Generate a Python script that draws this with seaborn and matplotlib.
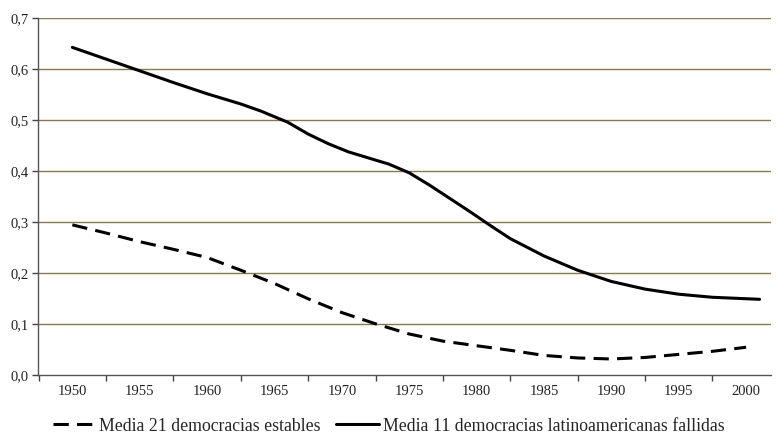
import matplotlib
matplotlib.use("Agg")
import matplotlib.pyplot as plt
import matplotlib.ticker as mticker
import seaborn as sns
import pandas as pd

# values
years_estables = [1950, 1952.5, 1955, 1957.5, 1960, 1962.5, 1965, 1967.5, 1970, 1972.5,
                  1975, 1977.5, 1980, 1982.5, 1985, 1987.5, 1990, 1992.5, 1995, 1997.5, 2000]
media_estables = [0.295, 0.279, 0.262, 0.247, 0.231, 0.206, 0.180, 0.150, 0.123, 0.101,
                  0.081, 0.067, 0.058, 0.049, 0.039, 0.034, 0.032, 0.035, 0.041, 0.047, 0.055]

years_fallidas = [1950, 1952.5, 1955, 1957.5, 1960, 1962.5, 1964, 1966, 1967.5, 1969,
                  1970.5, 1972, 1973.5, 1975, 1976.5, 1978, 1979.5, 1981, 1982.5, 1985,
                  1987.5, 1990, 1992.5, 1995, 1997.5, 2001]
media_fallidas = [0.643, 0.620, 0.597, 0.574, 0.552, 0.532, 0.518, 0.496, 0.473, 0.454,
                  0.438, 0.426, 0.414, 0.397, 0.373, 0.347, 0.321, 0.294, 0.268, 0.234,
                  0.206, 0.184, 0.169, 0.159, 0.153, 0.149]

label_estables = "Media 21 democracias estables"
label_fallidas = "Media 11 democracias latinoamericanas fallidas"
year_labels = list(range(1950, 2001, 5))
y_ticks = [0.0, 0.1, 0.2, 0.3, 0.4, 0.5, 0.6, 0.7]

df = pd.concat([
    pd.DataFrame({"year": years_estables, "valor": media_estables, "serie": label_estables}),
    pd.DataFrame({"year": years_fallidas, "valor": media_fallidas, "serie": label_fallidas}),
])

sns.set_style("white")
plt.rcParams["font.family"] = ["Liberation Serif", "DejaVu Serif"]

fig = plt.figure(figsize=(7.77, 4.42), dpi=100)
ax = fig.add_axes([0.0489, 0.1509, 0.9434, 0.8077])

sns.lineplot(data=df, x="year", y="valor", style="serie",
             hue="serie", palette=["black", "black"],
             dashes={label_estables: (5, 2.7), label_fallidas: ""},
             linewidth=2.2, ax=ax, legend=True)
for line in ax.lines:
    line.set_solid_joinstyle("round")
    line.set_dash_joinstyle("round")

ax.set_xlim(1947.45, 2001.85)
ax.set_ylim(0, 0.7)
ax.set_xticks(year_labels)
ax.set_xticks([1947.5 + 5 * i for i in range(11)], minor=True)
ax.tick_params(axis="x", which="major", length=0, labelsize=10.5, pad=7, colors="#222222")
ax.tick_params(axis="x", which="minor", length=4, width=1, color="#444444", direction="out", bottom=True)
ax.set_yticks(y_ticks)
ax.yaxis.set_major_formatter(mticker.FuncFormatter(lambda v, p: f"{v:.1f}".replace(".", ",")))
ax.tick_params(axis="y", length=4, width=1, color="#444444", direction="out", left=True,
               labelsize=10.5, pad=3)
for lab in ax.get_yticklabels():
    lab.set_color("#222222")

for v in y_ticks[1:]:
    ax.axhline(v, color="#857a55", linewidth=1, zorder=0)

for side in ["top", "right"]:
    ax.spines[side].set_visible(False)
for side in ["left", "bottom"]:
    ax.spines[side].set_color("#555555")
    ax.spines[side].set_linewidth(1)

ax.set_xlabel("")
ax.set_ylabel("")

handles, labels = ax.get_legend_handles_labels()
ax.legend(handles, labels, loc="center", bbox_to_anchor=(0.5, 0.036),
          bbox_transform=fig.transFigure, ncol=2, frameon=False,
          fontsize=12.8, handlelength=2.4, handletextpad=0.2, columnspacing=0.9)

fig.savefig("out.png", dpi=100)
